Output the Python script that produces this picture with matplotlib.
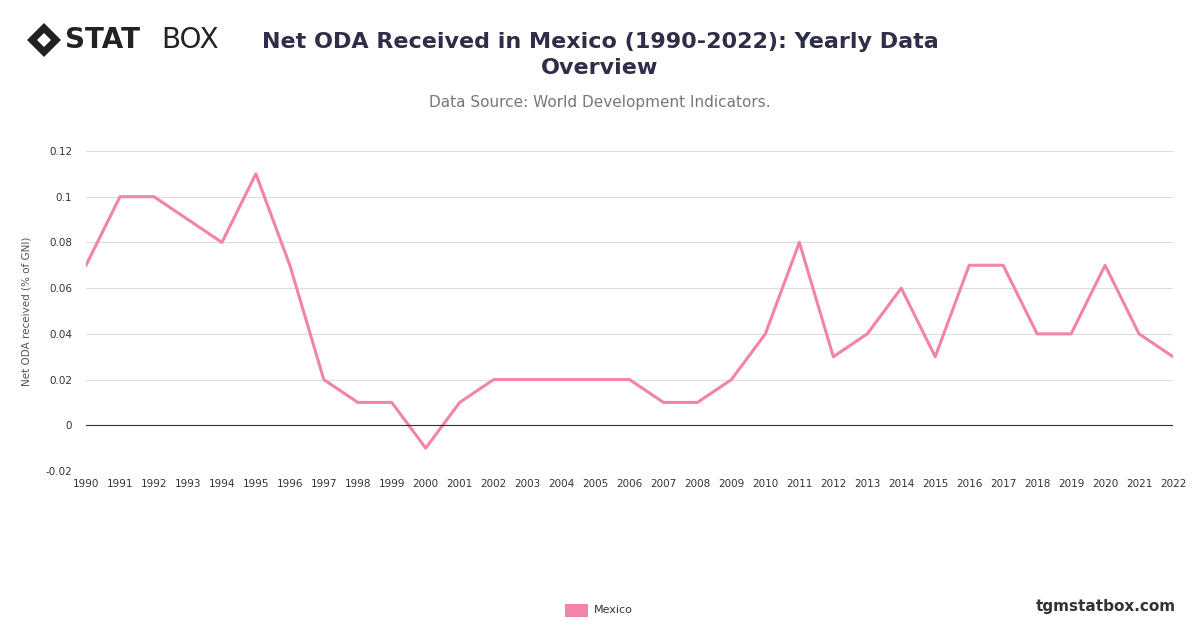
import matplotlib
matplotlib.use("Agg")
import matplotlib.pyplot as plt
from matplotlib.patches import Rectangle, Polygon

years = list(range(1990, 2023))
values = [0.07, 0.10, 0.10, 0.09, 0.08, 0.11, 0.07, 0.02, 0.01, 0.01, -0.01, 0.01,
          0.02, 0.02, 0.02, 0.02, 0.02, 0.01, 0.01, 0.02, 0.04, 0.08, 0.03, 0.04,
          0.06, 0.03, 0.07, 0.07, 0.04, 0.04, 0.07, 0.04, 0.03]
yticks = [-0.02, 0, 0.02, 0.04, 0.06, 0.08, 0.1, 0.12]
ytick_labels = ["-0.02", "0", "0.02", "0.04", "0.06", "0.08", "0.1", "0.12"]
color = "#f283aa"

fig = plt.figure(figsize=(12, 6.28), dpi=100)
ax = fig.add_axes([0.0717, 0.25, 0.9058, 0.5096])
ax.plot(years, values, color=color, lw=2.2)
ax.set_xlim(1990, 2022)
ax.set_ylim(-0.02, 0.12)
ax.set_yticks(yticks)
ax.set_yticklabels(ytick_labels)
ax.set_xticks(years)
ax.set_xticklabels([str(y) for y in years])
ax.tick_params(axis="both", labelsize=7.5, colors="#333333", length=0)
ax.tick_params(axis="x", pad=6)
ax.tick_params(axis="y", pad=10)
ax.grid(axis="y", color="#dddddd", lw=0.8)
ax.axhline(0, color="#333333", lw=0.8)
for s in ax.spines.values():
    s.set_visible(False)
ax.set_ylabel("Net ODA received (% of GNI)", fontsize=7.5, color="#555555", labelpad=10)

fig.text(0.5, 0.912, "Net ODA Received in Mexico (1990-2022): Yearly Data\nOverview",
         ha="center", va="center", fontsize=16, fontweight="bold", color="#2e2e48", linespacing=1.35)
fig.text(0.5, 0.837, "Data Source: World Development Indicators.", ha="center", va="center",
         fontsize=11, color="#777777")

# legend
fig.patches.append(Rectangle((0.471, 0.017), 0.019, 0.022, transform=fig.transFigure,
                             facecolor=color, edgecolor="none"))
fig.text(0.495, 0.028, "Mexico", fontsize=8, va="center", color="#333333")

# logo (pixel coords via figure fraction)
cx, cy, r = 44 / 1200, 1 - 40 / 628, 17
diamond = [(cx - r / 1200, cy), (cx, cy + r / 628), (cx + r / 1200, cy), (cx, cy - r / 628)]
fig.patches.append(Polygon(diamond, closed=True, transform=fig.transFigure,
                           facecolor="#222222", edgecolor="none"))
inner = 7
diamond2 = [(cx - inner / 1200, cy), (cx, cy + inner / 628), (cx + inner / 1200, cy), (cx, cy - inner / 628)]
fig.patches.append(Polygon(diamond2, closed=True, transform=fig.transFigure,
                           facecolor="white", edgecolor="none"))
fig.text(0.054, cy, "STAT", fontsize=20, fontweight="heavy", va="center", color="#222222")
fig.text(0.134, cy, "BOX", fontsize=20, va="center", color="#222222")
fig.text(0.98, 0.035, "tgmstatbox.com", ha="right", va="center", fontsize=11,
         fontweight="bold", color="#333333")

fig.savefig("out.png", dpi=100)
